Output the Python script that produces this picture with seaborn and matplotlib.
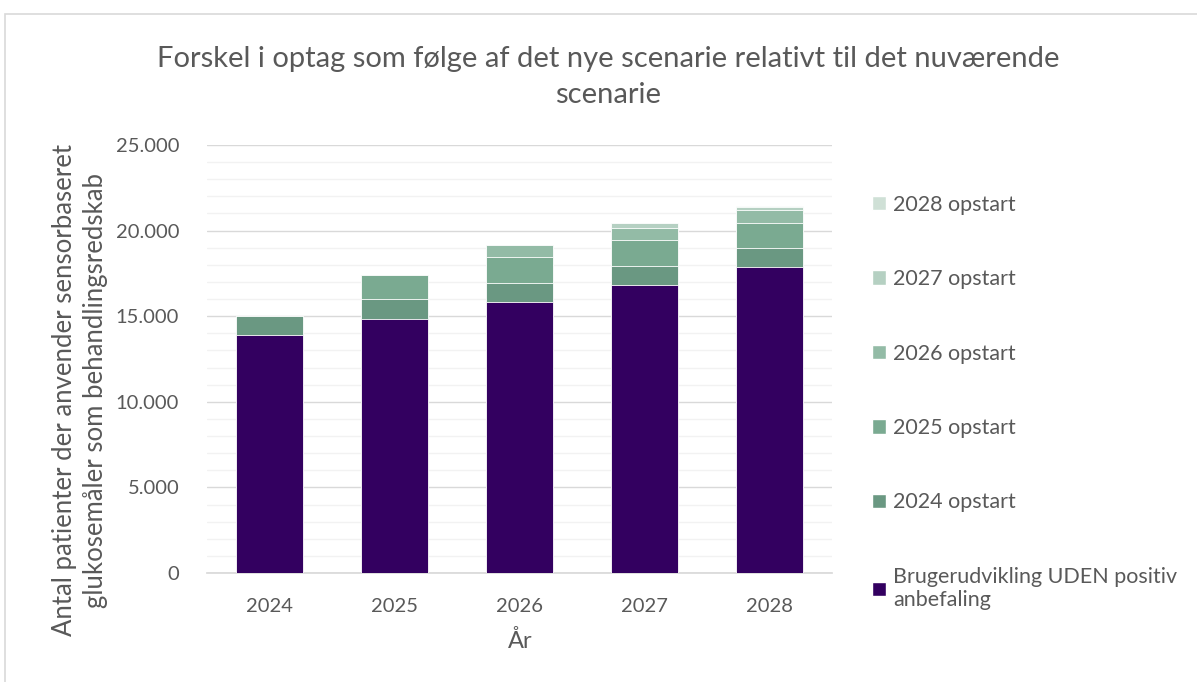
import numpy as np
import pandas as pd
import seaborn as sns
import matplotlib.pyplot as plt
import matplotlib.patches as patches

years = ["2024", "2025", "2026", "2027", "2028"]
base = [13900, 14850, 15850, 16850, 17850]
start_2024 = [1100, 1130, 1110, 1110, 1150]
start_2025 = [0, 1440, 1480, 1480, 1420]
start_2026 = [0, 0, 700, 740, 760]
start_2027 = [0, 0, 0, 250, 220]
start_2028 = [0, 0, 0, 0, 60]

series_names = ["Brugerudvikling UDEN positiv anbefaling", "2024 opstart", "2025 opstart",
                "2026 opstart", "2027 opstart", "2028 opstart"]
series_values = [base, start_2024, start_2025, start_2026, start_2027, start_2028]
colors = ["#330060", "#6a9882", "#7aaa91", "#93bba6", "#b5d0c2", "#cfe0d6"]

sns.set_theme(style="white")
plt.rcParams["font.family"] = ["Lato", "DejaVu Sans"]
text_color = "#595959"

fig = plt.figure(figsize=(11.97, 6.82), dpi=100)
ax = fig.add_axes([207 / 1197, 1 - 573 / 682, 625 / 1197, 428 / 682])

# chart area border
fig.patches.append(patches.Rectangle((5 / 1197, -0.1), 1.2, 1 - 14 / 682 + 0.1,
                                     transform=fig.transFigure, fill=False,
                                     edgecolor="#d9d9d9", linewidth=1.2))

# stacked bars: draw cumulative totals from top layer down
cum = np.cumsum(np.array(series_values), axis=0)
for i in range(len(series_names) - 1, -1, -1):
    df = pd.DataFrame({"year": years, "value": cum[i]})
    sns.barplot(data=df, x="year", y="value", color=colors[i], width=0.53,
                edgecolor="white", linewidth=0.6, saturation=1, ax=ax, zorder=3)

ax.set_ylim(0, 25000)
ax.set_xlim(-0.5, 4.5)
ax.set_yticks(np.arange(0, 25001, 5000))
ax.set_yticks(np.arange(0, 25001, 1000), minor=True)
ax.set_yticklabels([f"{v:,}".replace(",", ".") for v in range(0, 25001, 5000)])
ax.grid(axis="y", which="minor", color="#f2f2f2", linewidth=1, zorder=0)
ax.grid(axis="y", which="major", color="#d9d9d9", linewidth=1, zorder=0)
ax.set_axisbelow(True)
for side in ["top", "right", "left"]:
    ax.spines[side].set_visible(False)
ax.spines["bottom"].set_color("#d9d9d9")
ax.tick_params(axis="both", which="both", length=0, labelsize=14.5, colors=text_color)
ax.tick_params(axis="y", pad=20)
ax.tick_params(axis="x", pad=18)
ax.set_xlabel("")
ax.set_ylabel("")

fig.text(608 / 1197, 1 - 77 / 682, "Forskel i optag som følge af det nye scenarie relativt til det nuværende\nscenarie",
         ha="center", va="center", fontsize=21, color=text_color, linespacing=1.45)
fig.text(520 / 1197, 1 - 641 / 682, "År", ha="center", va="center", fontsize=17, color=text_color)
fig.text(80 / 1197, 1 - 390 / 682,
         "Antal patienter der anvender sensorbaseret\nglukosemåler som behandlingsredskab",
         ha="center", va="center", rotation=90, fontsize=18.5, color=text_color, linespacing=1.3)

handles = [patches.Patch(facecolor=colors[i]) for i in range(len(colors) - 1, -1, -1)]
labels = [series_names[i] for i in range(len(series_names) - 1, -1, -1)]
labels[-1] = "Brugerudvikling UDEN positiv\nanbefaling"
fig.legend(handles, labels, loc="upper left", bbox_to_anchor=(863 / 1197, 1 - 186 / 682),
           frameon=False, fontsize=15.5, labelcolor=text_color, labelspacing=2.53,
           handlelength=0.65, handleheight=0.65, handletextpad=0.35, borderaxespad=0)

fig.savefig("out.png", dpi=100)
